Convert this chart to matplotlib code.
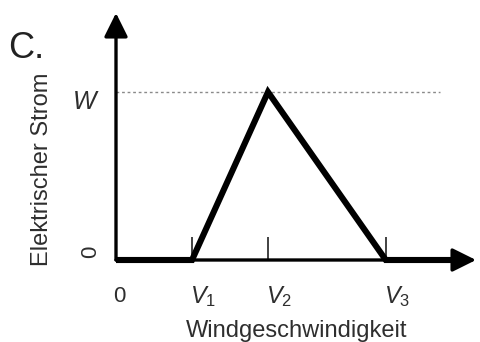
import matplotlib
matplotlib.use("Agg")
import matplotlib.pyplot as plt

plt.rcParams['font.family'] = ['Liberation Sans', 'DejaVu Sans']
plt.rcParams['mathtext.fontset'] = 'custom'
plt.rcParams['mathtext.it'] = 'Liberation Sans:italic'
plt.rcParams['mathtext.rm'] = 'Liberation Sans'

# wind speed thresholds (arbitrary units) and current curve
v_ticks = [1.0, 2.0, 3.55]
v_labels = [r'$V_1$', r'$V_2$', r'$V_3$']
curve_x = [0.0, 1.0, 2.0, 3.55, 4.46]
curve_y = [0.0, 0.0, 1.0, 0.0, 0.0]
w_level = 1.0
dash_end = 4.26

xmax = 360 / 76
ymax = 247 / 168
txt = '#2e2e2e'

fig = plt.figure(figsize=(4.81, 3.42), dpi=100)
ax = fig.add_axes([116 / 481, 82 / 342, 360 / 481, 247 / 342])
ax.set_xlim(0, xmax)
ax.set_ylim(0, ymax)
ax.axis('off')

# axes with arrowheads
arrow = dict(arrowstyle='-|>,head_length=1.45,head_width=0.72', lw=2.4,
             color='black', shrinkA=0, shrinkB=0)
ax.annotate('', xy=(xmax, 0), xytext=(0, 0), arrowprops=arrow,
            annotation_clip=False)
ax.annotate('', xy=(0, ymax), xytext=(0, 0), arrowprops=arrow,
            annotation_clip=False)

# dotted W level
ax.plot([0, dash_end], [w_level, w_level], ls=(0, (2, 2)), lw=1,
        color='#8a8a8a', clip_on=False)

# ticks
ax.vlines(v_ticks, 0, 0.135, lw=1.3, color='#333333', clip_on=False)

# power curve
ax.plot(curve_x, curve_y, lw=4.4, color='black', solid_joinstyle='miter',
        solid_capstyle='butt', clip_on=False)

# labels
ax.text(0.05, -0.22, '0', fontsize=16, color=txt, ha='center', va='center')
for xv, lab in zip(v_ticks, v_labels):
    ax.text(xv - 0.03, -0.22, lab, fontsize=17, color=txt, ha='left',
            va='center')
ax.text(-0.41, 0.94, 'W', fontsize=18, style='italic', color=txt,
        ha='center', va='center')
ax.text(-0.34, 0.05, '0', fontsize=16, color=txt, rotation=90,
        ha='center', va='center')
ax.text(-0.97, 0.54, 'Elektrischer Strom', fontsize=17, color=txt,
        rotation=90, ha='center', va='center')
ax.text(2.38, -0.42, 'Windgeschwindigkeit', fontsize=17, color=txt,
        ha='center', va='center')
fig.text(8 / 481, 1 - 58 / 342, 'C.', fontsize=26, color='#222222',
         ha='left', va='baseline')

fig.savefig('out.png', dpi=100)
